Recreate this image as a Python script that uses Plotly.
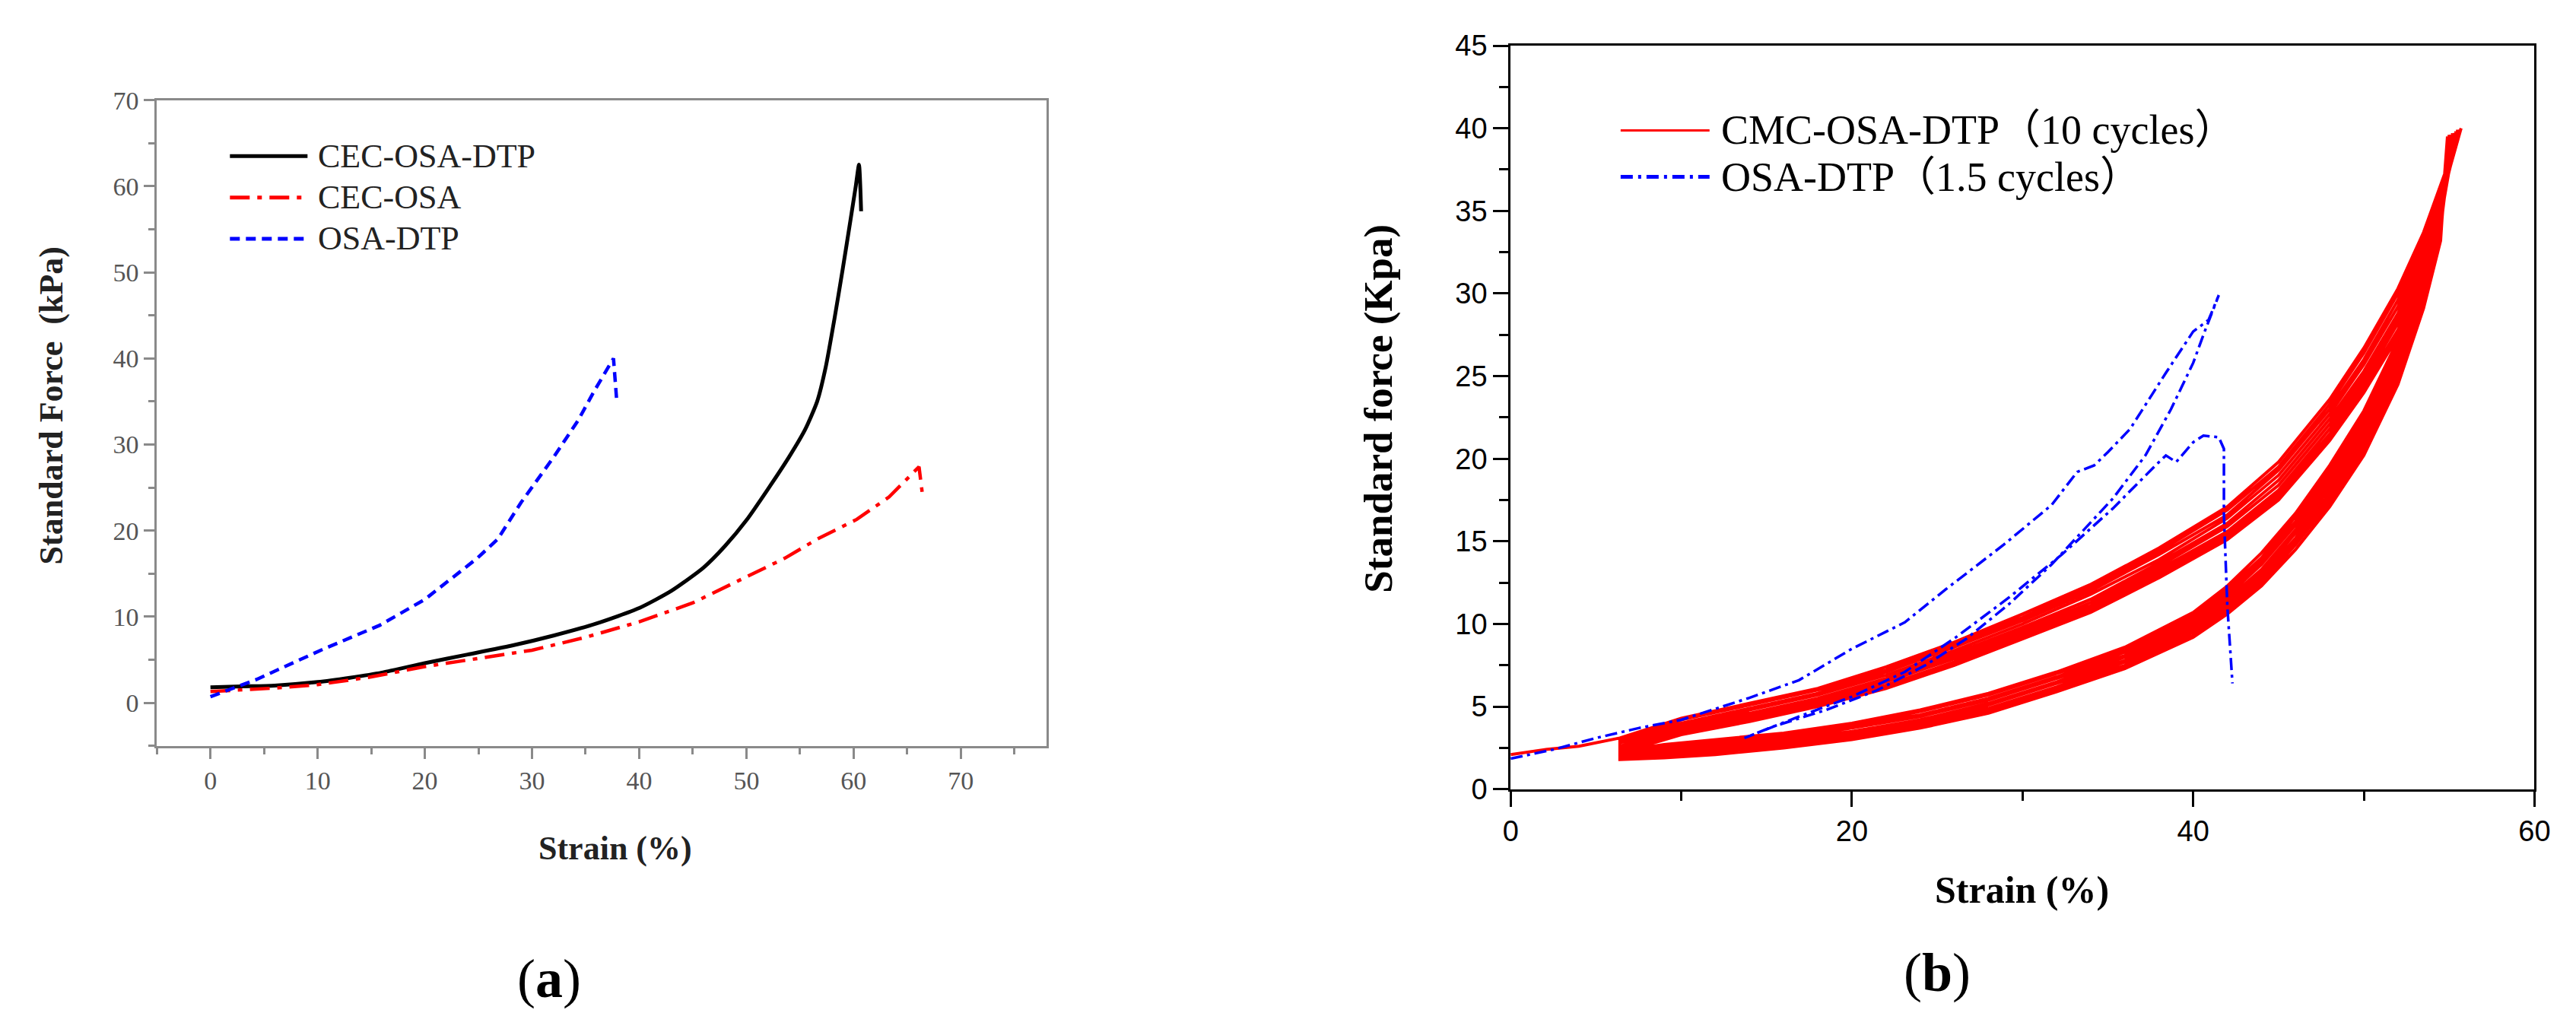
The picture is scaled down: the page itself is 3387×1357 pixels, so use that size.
import plotly.graph_objects as go

W, H = 3387, 1357

# ---------- panel (a) data ----------
cec_osa_dtp_strain = [0, 3, 6, 10, 13, 16, 20, 24, 28, 32, 36, 40, 43, 46, 48, 50, 52, 54, 55.5, 56.6, 57.4, 58.2, 59.0, 59.7, 60.2, 60.5, 60.7]
cec_osa_dtp_force = [1.8, 1.9, 2.0, 2.4, 2.9, 3.5, 4.6, 5.6, 6.6, 7.8, 9.2, 11.0, 13.0, 15.7, 18.2, 21.2, 24.8, 28.6, 31.8, 35.0, 39.0, 44.5, 50.5, 56.0, 60.0, 62.5, 57.1]

cec_osa_strain = [0, 3, 6, 10, 15, 20, 25, 30, 35, 40, 45, 50, 53.6, 56.6, 60.3, 63.3, 66.1, 66.4]
cec_osa_force = [1.3, 1.5, 1.7, 2.1, 3.0, 4.2, 5.1, 6.1, 7.6, 9.4, 11.6, 14.6, 16.8, 19.0, 21.3, 23.9, 27.4, 24.4]

osa_dtp_strain = [0, 4.3, 10.3, 15.8, 20, 24.9, 26.8, 29, 32, 34.3, 35.8, 37.6, 37.9]
osa_dtp_force = [0.7, 2.7, 6.1, 9.0, 12.0, 16.8, 19.0, 23.3, 28.5, 32.8, 36.2, 40.0, 35.1]

# ---------- panel (b) data ----------
# CMC-OSA-DTP, 10 loading / unloading cycles
cmc_first_strain = [0, 2, 4]
cmc_first_force = [2.1, 2.4, 2.6]

cmc_load_strain = [6.4, 10, 14, 18, 22, 26, 30, 34, 38, 42, 45, 48, 50, 52, 53.5, 54.5]
cmc_load_force = [
    [3.1, 4.3, 5.2, 6.1, 7.4, 8.9, 10.6, 12.4, 14.6, 17.1, 19.8, 23.6, 26.7, 30.3, 33.7, 36.6],
    [3.0, 4.2, 5.1, 6.0, 7.2, 8.8, 10.4, 12.2, 14.4, 16.9, 19.5, 23.3, 26.4, 30.0, 33.4, 36.3],
    [2.9, 4.0, 4.9, 5.8, 7.1, 8.6, 10.2, 12.0, 14.2, 16.6, 19.3, 23.0, 26.0, 29.6, 33.0, 36.0],
    [2.8, 3.9, 4.8, 5.7, 6.9, 8.4, 10.0, 11.8, 13.9, 16.4, 19.0, 22.7, 25.7, 29.2, 32.6, 35.6],
    [2.6, 3.8, 4.6, 5.5, 6.7, 8.2, 9.8, 11.5, 13.7, 16.1, 18.7, 22.4, 25.3, 28.8, 32.2, 35.3],
    [2.5, 3.7, 4.5, 5.4, 6.6, 8.0, 9.6, 11.3, 13.5, 15.9, 18.4, 22.1, 25.0, 28.5, 31.9, 35.0],
    [2.4, 3.6, 4.4, 5.3, 6.5, 7.9, 9.5, 11.1, 13.3, 15.6, 18.1, 21.8, 24.7, 28.2, 31.6, 34.7],
    [2.4, 3.5, 4.3, 5.2, 6.3, 7.7, 9.3, 10.9, 13.1, 15.4, 17.9, 21.5, 24.4, 27.8, 31.2, 34.4],
    [2.3, 3.4, 4.2, 5.1, 6.2, 7.6, 9.2, 10.8, 12.9, 15.2, 17.7, 21.3, 24.2, 27.6, 31.0, 34.2],
    [2.2, 3.3, 4.1, 5.0, 6.1, 7.5, 9.1, 10.7, 12.8, 15.1, 17.5, 21.1, 24.0, 27.4, 30.8, 34.0],
]
cmc_peak_strain = [55.7, 55.6, 55.5, 55.4, 55.4, 55.3, 55.2, 55.1, 55.0, 54.9]
cmc_peak_force = [40.0, 39.9, 39.9, 39.8, 39.8, 39.7, 39.7, 39.6, 39.6, 39.5]
cmc_unload_strain = [54.5, 53.5, 52, 50, 48, 46, 44, 42, 40, 36, 32, 28, 24, 20, 16, 12, 9, 6.4]
cmc_unload_force = [
    [35.6, 31.8, 27.2, 22.9, 19.6, 16.7, 14.3, 12.3, 10.7, 8.6, 7.1, 5.8, 4.8, 4.0, 3.4, 3.0, 2.7, 2.3],
    [35.3, 31.5, 26.9, 22.6, 19.3, 16.5, 14.0, 12.1, 10.5, 8.4, 7.0, 5.7, 4.7, 3.9, 3.3, 2.9, 2.6, 2.2],
    [35.0, 31.2, 26.6, 22.3, 19.0, 16.2, 13.8, 11.9, 10.3, 8.3, 6.8, 5.5, 4.5, 3.8, 3.2, 2.8, 2.5, 2.1],
    [34.8, 30.9, 26.3, 22.0, 18.7, 16.0, 13.6, 11.7, 10.2, 8.1, 6.7, 5.4, 4.4, 3.7, 3.1, 2.7, 2.4, 2.1],
    [34.5, 30.6, 26.0, 21.7, 18.5, 15.7, 13.3, 11.5, 10.0, 8.0, 6.5, 5.2, 4.2, 3.5, 3.0, 2.6, 2.3, 2.0],
    [34.3, 30.3, 25.7, 21.4, 18.2, 15.5, 13.1, 11.3, 9.8, 7.8, 6.4, 5.1, 4.1, 3.4, 2.9, 2.5, 2.2, 2.0],
    [34.0, 30.0, 25.4, 21.1, 17.9, 15.2, 12.9, 11.1, 9.6, 7.7, 6.2, 4.9, 4.0, 3.3, 2.8, 2.4, 2.1, 1.9],
    [33.8, 29.7, 25.1, 20.8, 17.7, 15.0, 12.7, 10.9, 9.5, 7.5, 6.1, 4.8, 3.9, 3.2, 2.7, 2.3, 2.0, 1.9],
    [33.5, 29.4, 24.8, 20.5, 17.4, 14.8, 12.5, 10.8, 9.3, 7.4, 6.0, 4.7, 3.8, 3.1, 2.6, 2.2, 2.0, 1.8],
    [33.2, 29.1, 24.5, 20.2, 17.1, 14.5, 12.3, 10.6, 9.2, 7.3, 5.9, 4.6, 3.7, 3.0, 2.5, 2.1, 1.9, 1.8],
]

# OSA-DTP, 1.5 cycles
osa_load1_strain = [0, 2.5, 5, 7.5, 10, 13.9, 16.9, 20, 23.1, 25.5, 28.9, 31.7, 33.2, 34.2, 35.0, 36.3, 38.4, 40.0, 40.9, 41.5]
osa_load1_force = [1.85, 2.4, 3.1, 3.7, 4.2, 5.5, 6.6, 8.5, 10.1, 12.1, 14.8, 17.2, 19.2, 19.6, 20.4, 21.8, 25.2, 27.7, 28.4, 29.9]
osa_unload_strain = [40.6, 40.0, 38.7, 37.2, 35.3, 33.5, 31.7, 29.2, 26.7, 24.3, 21.5, 18.5, 15.4, 13.7]
osa_unload_force = [27.5, 25.8, 23.0, 20.2, 17.6, 15.6, 13.6, 11.2, 9.1, 7.5, 6.0, 4.8, 3.8, 3.1]
osa_load2_strain = [15.4, 16.9, 20, 23.1, 26.1, 29.2, 32.3, 35.3, 37.8, 38.4, 39.0, 40.0, 40.6, 41.5, 41.8, 41.8, 42.0, 42.3]
osa_load2_force = [3.8, 4.4, 5.6, 7.1, 9.2, 11.6, 14.2, 17.0, 19.6, 20.2, 19.8, 21.0, 21.4, 21.3, 20.6, 16.6, 11.1, 6.4]

# assemble the continuous test records
cmc_x = list(cmc_first_strain)
cmc_y = list(cmc_first_force)
for i in range(len(cmc_load_force)):
    cmc_x += cmc_load_strain + [cmc_peak_strain[i]] + cmc_unload_strain
    cmc_y += cmc_load_force[i] + [cmc_peak_force[i]] + cmc_unload_force[i]

osa_x = osa_load1_strain + osa_unload_strain + osa_load2_strain
osa_y = osa_load1_force + osa_unload_force + osa_load2_force

SERIF = "Liberation Serif, Times New Roman, serif"
SERIF_CJK = "Liberation Serif, Noto Sans CJK SC, serif"
SANS = "Liberation Sans, Arial, sans-serif"


def px(x):
    return x / W


def py(y):
    return 1 - y / H


fig = go.Figure()

# panel (a)
fig.add_trace(go.Scatter(x=cec_osa_dtp_strain, y=cec_osa_dtp_force, mode="lines",
                         line=dict(color="black", width=5, shape="spline", smoothing=0.6), xaxis="x", yaxis="y"))
fig.add_trace(go.Scatter(x=cec_osa_strain, y=cec_osa_force, mode="lines",
                         line=dict(color="red", width=4.5, dash="26px,10px,6px,10px"), xaxis="x", yaxis="y"))
fig.add_trace(go.Scatter(x=osa_dtp_strain, y=osa_dtp_force, mode="lines",
                         line=dict(color="blue", width=4.5, dash="13px,8px"), xaxis="x", yaxis="y"))

# panel (b)
fig.add_trace(go.Scatter(x=cmc_x, y=cmc_y, mode="lines",
                         line=dict(color="red", width=4), xaxis="x2", yaxis="y2"))
fig.add_trace(go.Scatter(x=osa_x, y=osa_y, mode="lines",
                         line=dict(color="blue", width=3.5, dash="16px,6px,4px,6px"), xaxis="x2", yaxis="y2"))

axis_a = dict(showgrid=False, zeroline=False, showline=True, mirror=True,
              linecolor="#8a8a8a", linewidth=3, ticks="outside", ticklen=14, tickwidth=3,
              tickcolor="#8a8a8a", tickfont=dict(family=SERIF, size=34, color="#555555"))
axis_b = dict(showgrid=False, zeroline=False, showline=True, mirror=True,
              linecolor="black", linewidth=3, ticks="outside", ticklen=20, tickwidth=3,
              tickcolor="black", tickfont=dict(family=SANS, size=38, color="black"))

fig.update_layout(
    width=W, height=H,
    margin=dict(l=0, r=0, t=0, b=0),
    paper_bgcolor="white", plot_bgcolor="white",
    showlegend=False,
    xaxis=dict(axis_a, domain=[px(189), px(1370)], range=[-5, 78], tick0=0, dtick=10,
               minor=dict(dtick=5, tick0=0, ticks="outside", ticklen=8, tickcolor="#8a8a8a", tickwidth=3),
               anchor="y"),
    yaxis=dict(axis_a, domain=[py(982), py(106)], range=[-5, 70], tick0=0, dtick=10,
               minor=dict(dtick=5, tick0=0, ticks="outside", ticklen=8, tickcolor="#8a8a8a", tickwidth=3),
               anchor="x"),
    xaxis2=dict(axis_b, domain=[px(1986), px(3345)], range=[0, 60], tick0=0, dtick=20,
                minor=dict(dtick=10, tick0=0, ticks="outside", ticklen=12, tickcolor="black", tickwidth=3),
                anchor="y2"),
    yaxis2=dict(axis_b, domain=[py(1041), py(32)], range=[0, 45], tick0=0, dtick=5,
                minor=dict(dtick=2.5, tick0=0, ticks="outside", ticklen=12, tickcolor="black", tickwidth=3),
                anchor="x2"),
)

# axis titles and panel letters
notes = [
    (49, 521, "<b>Standard Force  (kPa)</b>", 44, SERIF, "#222222", -90),
    (798, 1121, "<b>Strain (%)</b>", 44, SERIF, "#222222", 0),
    (710, 1298, "(<b>a</b>)", 72, SERIF, "black", 0),
    (1811, 524, "<b>Standard force (Kpa)</b>", 53, SERIF, "black", -90),
    (2665, 1177, "<b>Strain (%)</b>", 50, SERIF, "black", 0),
    (2552, 1290, "(<b>b</b>)", 72, SERIF, "black", 0),
]
for x, y, text, size, fam, col, ang in notes:
    fig.add_annotation(x=px(x), y=py(y), xref="paper", yref="paper", text=text, showarrow=False,
                       textangle=ang, xanchor="center", yanchor="middle",
                       font=dict(family=fam, size=size, color=col))

# legends drawn by hand
legend_items = [
    (286, 389, 182, "black", 5, "solid", "CEC-OSA-DTP", 44, SERIF, "#222222", 401),
    (286, 389, 238, "red", 5, "26px,10px,6px,10px", "CEC-OSA", 44, SERIF, "#222222", 401),
    (286, 389, 294, "blue", 5, "13px,8px", "OSA-DTP", 44, SERIF, "#222222", 401),
    (2132, 2250, 147, "red", 3, "solid", "CMC-OSA-DTP（10 cycles）", 54, SERIF_CJK, "black", 2263),
    (2132, 2250, 210, "blue", 5, "16px,7px,4px,7px", "OSA-DTP（1.5 cycles）", 54, SERIF_CJK, "black", 2263),
]
for x0, x1, y, col, wid, dash, text, size, fam, tcol, tx in legend_items:
    fig.add_shape(type="line", xref="paper", yref="paper", x0=px(x0), x1=px(x1), y0=py(y), y1=py(y),
                  line=dict(color=col, width=wid, dash=dash))
    fig.add_annotation(x=px(tx), y=py(y), xref="paper", yref="paper", text=text, showarrow=False,
                       xanchor="left", yanchor="middle", font=dict(family=fam, size=size, color=tcol))

fig.write_html("out.html")
